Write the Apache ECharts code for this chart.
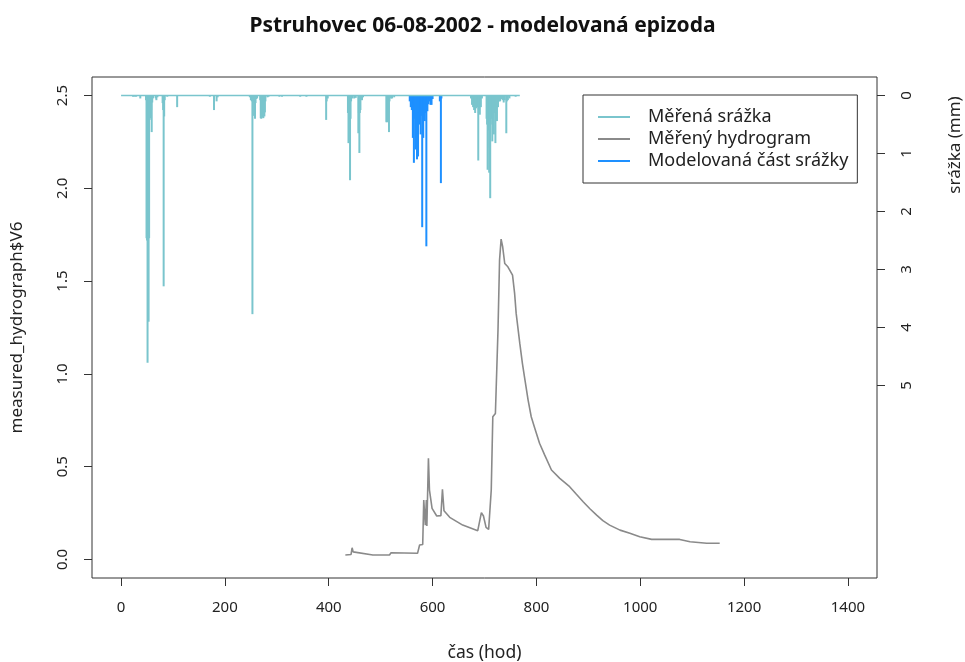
<!DOCTYPE html>
<html>
<head>
<meta charset="utf-8">
<script src="https://cdn.jsdelivr.net/npm/echarts@6/dist/echarts.min.js"></script>
<style>html,body{margin:0;padding:0;background:#fff;}#c{width:965px;height:662px;}</style>
</head>
<body>
<div id="c"></div>
<script>
// ---- data ----
const titleText = 'Pstruhovec 06-08-2002 - modelovaná epizoda';
const xTicks = [0, 200, 400, 600, 800, 1000, 1200, 1400];
const yTicks = [0, 0.5, 1.0, 1.5, 2.0, 2.5];
const rainTicks = [0, 1, 2, 3, 4, 5];

const hydroTime = [432,443,445,447,485,517,520,571,575,581,583,586,588,589,592,594,599,608,616,619,622,633,658,687,694,698,703,708,713,716,721,726,729,732,735,739,745,754,758,761,768,773,777,784,790,797,806,816,829,845,864,877,890,903,916,928,941,961,980,999,1022,1076,1096,1128,1153];
const hydroValue = [0.024,0.027,0.063,0.041,0.024,0.024,0.036,0.033,0.078,0.081,0.32,0.185,0.32,0.18,0.545,0.374,0.275,0.234,0.236,0.378,0.262,0.227,0.185,0.155,0.252,0.234,0.173,0.162,0.374,0.769,0.787,1.236,1.613,1.726,1.685,1.595,1.577,1.532,1.434,1.326,1.164,1.057,0.984,0.859,0.769,0.706,0.626,0.562,0.482,0.437,0.392,0.351,0.311,0.273,0.239,0.209,0.185,0.158,0.141,0.122,0.108,0.108,0.095,0.087,0.087];

// measured rainfall (hour, mm) – non-zero hours
const rainTime = [23,26,29,37,48,49,50,51,52,53,54,55,56,57,58,59,60,61,62,67,68,70,80,81,82,83,84,89,108,
  171,179,184,186,
  248,250,251,252,253,254,255,256,258,259,260,262,268,269,270,272,274,276,277,278,282,284,
  305,310,345,357,395,396,398,
  437,438,439,440,441,442,443,445,449,452,457,458,459,460,461,464,466,
  511,512,513,514,515,516,517,520,522,526,
  674,676,678,680,682,684,686,688,689,691,693,695,704,705,706,707,708,709,710,711,712,713,715,716,718,719,721,722,724,726,728,730,733,735,737,739,742,743,745,748,760];
const rainValue = [0.02,0.02,0.02,0.05,0.08,2.46,2.5,4.61,2.46,3.9,2.46,0.42,0.2,0.39,0.25,0.63,0.12,0.05,0.04,0.05,0.08,0.03,0.13,0.25,3.29,0.36,0.08,0.02,0.2,
  0.02,0.25,0.1,0.03,
  0.03,0.08,0.08,0.1,3.77,0.35,0.12,0.05,0.4,0.13,0.06,0.05,0.08,0.39,0.4,0.38,0.39,0.36,0.29,0.1,0.03,0.02,
  0.02,0.02,0.02,0.02,0.42,0.1,0.05,
  0.3,0.82,0.8,0.82,1.46,0.4,0.1,0.05,0.05,0.04,0.65,0.3,0.99,0.3,0.25,0.08,0.03,
  0.46,0.44,0.46,0.45,0.3,0.63,0.1,0.05,0.05,0.03,
  0.05,0.16,0.2,0.25,0.3,0.22,0.2,1.12,0.3,0.33,0.2,0.05,0.4,0.5,1.28,0.6,0.45,1.33,0.9,1.77,0.5,0.4,0.79,0.4,0.67,0.3,0.82,0.3,0.44,0.2,0.1,0.1,0.06,0.08,0.12,0.08,0.65,0.1,0.08,0.05,0.02];
const rainStart = 0, rainEnd = 768;

// modelled part of rainfall (hour, mm)
const modTime = [556,558,560,562,563,564,565,567,568,570,571,572,573,575,576,577,578,580,581,582,583,585,586,588,589,590,592,594,596,598,600,614,616,617];
const modValue = [0.1,0.2,0.25,0.73,0.3,1.16,0.4,0.93,0.35,1.1,0.4,1.05,0.3,0.5,0.3,0.67,0.35,2.27,0.3,0.73,0.25,0.44,0.3,2.6,0.2,0.27,0.15,0.1,0.16,0.16,0.06,0.1,1.51,0.05];

const names = ['Měřená srážka', 'Měřený hydrogram', 'Modelovaná část srážky'];
const colRain = '#7AC5CD', colHydro = '#8a8a8a', colMod = '#1E90FF';

// ---- chart ----
const chart = echarts.init(document.getElementById('c'), null, {renderer: 'canvas'});
const FONT = 'Noto Sans';
function pairs(a, b) { return a.map((t, i) => [t, b[i]]); }
function rainRender(color) {
  return function (params, api) {
    const p0 = api.coord([api.value(0), 0]);
    const p1 = api.coord([api.value(0), api.value(1)]);
    return {type: 'line', shape: {x1: p0[0], y1: p0[1], x2: p1[0], y2: p1[1]},
            style: {stroke: color, lineWidth: 2}};
  };
}
const option = {
  animation: false,
  backgroundColor: '#fff',
  title: {text: titleText, left: 'center', top: 11,
    textStyle: {fontFamily: FONT, fontWeight: 'bold', fontSize: 21, color: '#111'}},
  grid: {left: 92, right: 88, top: 77, bottom: 84, show: true, borderColor: '#333', borderWidth: 1,
    backgroundColor: 'transparent', outerBoundsMode: 'none', containLabel: false},
  legend: {
    data: names, orient: 'vertical', left: 583, top: 95,
    borderColor: '#333', borderWidth: 1, borderRadius: 0,
    padding: [11, 9, 11, 15], itemGap: 0,
    icon: 'rect', itemWidth: 32, itemHeight: 2,
    textStyle: {fontFamily: FONT, fontSize: 18, color: '#222', padding: [0, 0, 0, 13], lineHeight: 22},
    selectedMode: false
  },
  xAxis: {
    type: 'value', min: -56, max: 1456,
    axisLine: {show: false, onZero: false},
    axisTick: {show: true, length: 8, customValues: xTicks, lineStyle: {color: '#333'}},
    axisLabel: {customValues: xTicks, margin: 22, fontFamily: FONT, fontSize: 15, color: '#222',
      formatter: v => String(v)},
    splitLine: {show: false},
    name: 'čas (hod)', nameLocation: 'middle', nameGap: 66,
    nameTextStyle: {fontFamily: FONT, fontSize: 17.5, color: '#222'}
  },
  yAxis: [{
    type: 'value', min: -0.1, max: 2.6, position: 'left',
    axisLine: {show: false, onZero: false},
    axisTick: {show: true, length: 8, customValues: yTicks, lineStyle: {color: '#333'}},
    axisLabel: {customValues: yTicks, rotate: 90, margin: 22, fontFamily: FONT, fontSize: 15, color: '#222',
      formatter: v => v.toFixed(1)},
    splitLine: {show: false},
    name: 'measured_hydrograph$V6', nameLocation: 'middle', nameGap: 66,
    nameTextStyle: {fontFamily: FONT, fontSize: 17, color: '#222'}
  }, {
    type: 'value', min: -0.32, max: 8.32, inverse: true, position: 'right',
    axisLine: {show: false, onZero: false},
    axisTick: {show: true, length: 8, customValues: rainTicks, lineStyle: {color: '#333'}},
    axisLabel: {customValues: rainTicks, rotate: 90, margin: 22, fontFamily: FONT, fontSize: 15, color: '#222'},
    splitLine: {show: false}
  }],
  graphic: [{
    type: 'text', x: 955, y: 145, rotation: Math.PI / 2,
    style: {text: 'srážka (mm)', fontFamily: FONT, fontSize: 17, fill: '#222', align: 'center', verticalAlign: 'middle'}
  }],
  series: [{
    name: 'baseline', type: 'line', yAxisIndex: 1, data: [[rainStart, 0], [rainEnd, 0]],
    showSymbol: false, lineStyle: {color: colRain, width: 1.5}, silent: true
  }, {
    name: names[0], type: 'custom', yAxisIndex: 1, data: pairs(rainTime, rainValue),
    encode: {x: 0, y: 1}, renderItem: rainRender(colRain), itemStyle: {color: colRain}, clip: true
  }, {
    name: names[2], type: 'custom', yAxisIndex: 1, data: pairs(modTime, modValue),
    encode: {x: 0, y: 1}, renderItem: rainRender(colMod), itemStyle: {color: colMod}, clip: true
  }, {
    name: names[1], type: 'line', yAxisIndex: 0, data: pairs(hydroTime, hydroValue),
    showSymbol: false, lineStyle: {color: colHydro, width: 1.6}, itemStyle: {color: colHydro}
  }]
};
chart.setOption(option);
</script>
</body>
</html>
